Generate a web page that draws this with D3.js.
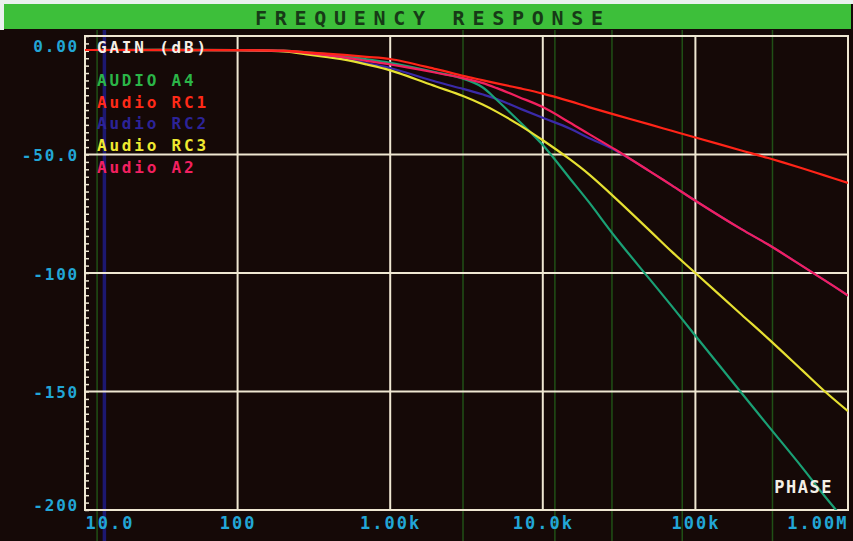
<!DOCTYPE html>
<html><head><meta charset="utf-8">
<script src="https://cdn.jsdelivr.net/npm/d3@7"></script>
<style>html,body{margin:0;padding:0;background:#150907;overflow:hidden}</style>
</head><body><svg id="c" width="853" height="541"></svg>
<script>
// ---- data ----
const frequencies = [10, 100, 200, 300, 500, 700, 1000, 2000, 3000, 4000, 5000, 7000, 10000, 15000, 20000, 30000, 50000, 70000, 100000, 200000, 300000, 500000, 700000, 1000000];
const audioA4  = [-5.9, -6, -6.2, -7, -8.5, -9.8, -11.3, -15.3, -18, -21.5, -27, -36, -46, -60, -70, -85, -102.5, -114, -126.5, -150.5, -164.5, -182, -194, -206];
const audioRC1 = [-5.9, -6, -6.2, -7, -8, -8.8, -9.7, -14, -16.8, -18.6, -20, -22, -24.3, -27.5, -30, -33.3, -37.3, -40, -42.8, -48.3, -51.5, -55.8, -58.8, -62];
const audioRC2 = [-5.9, -6, -6.4, -7.6, -9.6, -11.5, -13.5, -19.3, -22.3, -24.6, -26.6, -30.5, -34.5, -39, -43, -48.3, -57, -63, -69.5, -81.5, -88, -97, -103, -109.5];
const audioRC3 = [-5.9, -6, -6.5, -8, -10, -12, -14.5, -21.3, -25.3, -28.8, -32, -37.5, -44, -52, -58.3, -68.5, -82, -91, -100, -117.5, -127.7, -141, -149.8, -158.3];
const audioA2  = [-5.9, -6, -6.3, -7.3, -9, -10.5, -12, -15.5, -17.8, -19.8, -22, -25.8, -30, -36.5, -41.3, -48, -57, -63, -69.5, -81.5, -88, -97, -103, -109.5];
const seriesNames = ["AUDIO A4", "Audio RC1", "Audio RC2", "Audio RC3", "Audio A2"];
const yTicks = [0, -50, -100, -150, -200];
const yTickLabels = ["0.00", "-50.0", "-100", "-150", "-200"];
const xTicks = [10, 100, 1000, 10000, 100000, 1000000];
const xTickLabels = ["10.0", "100", "1.00k", "10.0k", "100k", "1.00M"];
const title = "FREQUENCY RESPONSE";
const yTitle = "GAIN (dB)";
const cornerLabel = "PHASE";
const scanFreqs = [12, 3000, 12000, 28400, 82000, 320000];
const scanFreqsBlue = [13.4];

// ---- styles ----
const colors = {
  "AUDIO A4": {line: "#1aa075", text: "#2bb548"},
  "Audio RC1": {line: "#ff2418", text: "#ff2a18"},
  "Audio RC2": {line: "#3a2aa8", text: "#2c2398"},
  "Audio RC3": {line: "#e6e032", text: "#eeea30"},
  "Audio A2": {line: "#f2205e", text: "#f22060"}
};
const drawOrder = ["Audio RC2", "AUDIO A4", "Audio RC3", "Audio A2", "Audio RC1"];
const seriesData = {"AUDIO A4": audioA4, "Audio RC1": audioRC1, "Audio RC2": audioRC2, "Audio RC3": audioRC3, "Audio A2": audioA2};
const FONT = "'DejaVu Sans Mono', monospace";
const GRID = "#efe7d2";
const CYAN = "#22a6d6";

const svg = d3.select("#c");
const W = 853, H = 541;
svg.append("rect").attr("width", W).attr("height", H).attr("fill", "#150907");
svg.append("rect").attr("x", 0).attr("y", 0).attr("width", W).attr("height", 4).attr("fill", "#e9f1ef");
svg.append("rect").attr("x", 0).attr("y", 0).attr("width", 4).attr("height", 30).attr("fill", "#e9f1ef");
svg.append("rect").attr("x", 4).attr("y", 4).attr("width", W - 6).attr("height", 25).attr("fill", "#3dbf3a");
svg.append("text").attr("x", 429).attr("y", 24.5).attr("text-anchor", "middle")
  .attr("font-family", FONT).attr("font-size", 20).attr("font-weight", "bold").attr("fill", "#173a17")
  .attr("textLength", 348).attr("lengthAdjust", "spacing").text(title);

const x = d3.scaleLog().domain([10, 1e6]).range([85, 848]);
const y = d3.scaleLinear().domain([0, -200]).range([36, 510]);

// faint raster lines of the photographed screen
const g0 = svg.append("g");
g0.selectAll("line.sg").data(scanFreqs).join("line")
  .attr("x1", d => x(d)).attr("x2", d => x(d)).attr("y1", 30).attr("y2", 541)
  .attr("stroke", "#2a8a22").attr("stroke-opacity", 0.55).attr("stroke-width", 1.5);
g0.selectAll("line.sb").data(scanFreqsBlue).join("line")
  .attr("x1", d => x(d)).attr("x2", d => x(d)).attr("y1", 30).attr("y2", 541)
  .attr("stroke", "#1c1870").attr("stroke-width", 3.5);

// grid
const grid = svg.append("g");
grid.selectAll("line.v").data(xTicks.slice(1, -1)).join("line")
  .attr("x1", d => x(d)).attr("x2", d => x(d)).attr("y1", y(0)).attr("y2", y(-200))
  .attr("stroke", GRID).attr("stroke-width", 2);
grid.selectAll("line.h").data(yTicks.slice(1, -1)).join("line")
  .attr("x1", x(10)).attr("x2", x(1e6)).attr("y1", d => y(d)).attr("y2", d => y(d))
  .attr("stroke", GRID).attr("stroke-width", 2);
svg.append("rect").attr("x", x(10)).attr("y", y(0)).attr("width", x(1e6) - x(10)).attr("height", y(-200) - y(0))
  .attr("fill", "none").attr("stroke", GRID).attr("stroke-width", 2);

// minor ticks on gain axis
const minor = d3.range(0, -200.01, -50 / 16);
svg.append("g").attr("transform", `translate(${x(10)},0)`)
  .call(d3.axisRight(y).tickValues(minor).tickSize(4).tickFormat(""))
  .call(g => g.select(".domain").remove())
  .call(g => g.selectAll("line").attr("stroke", GRID).attr("stroke-width", 1.5));

// y labels
const yAx = svg.append("g").attr("transform", `translate(${x(10) - 3},0)`)
  .call(d3.axisLeft(y).tickValues(yTicks).tickSize(0).tickFormat((d, i) => yTickLabels[i]));
yAx.select(".domain").remove();
yAx.selectAll("text").attr("font-family", FONT).attr("font-size", 16).attr("font-weight", "bold").attr("fill", CYAN)
  .attr("letter-spacing", 1.8)
  .attr("dy", (d, i) => i === 0 ? "0.95em" : (i === yTicks.length - 1 ? "0.0em" : "0.4em"));

// x labels
const xAx = svg.append("g").attr("transform", `translate(0,${y(-200)})`)
  .call(d3.axisBottom(x).tickValues(xTicks).tickSize(0).tickFormat((d, i) => xTickLabels[i]));
xAx.select(".domain").remove();
xAx.selectAll("text").attr("font-family", FONT).attr("font-size", 17).attr("font-weight", "bold").attr("fill", CYAN)
  .attr("letter-spacing", 2).attr("dy", "0.95em")
  .attr("text-anchor", (d, i) => i === 0 ? "start" : (i === xTicks.length - 1 ? "end" : "middle"));

// curves
svg.append("clipPath").attr("id", "clip").append("rect")
  .attr("x", x(10)).attr("y", y(0)).attr("width", x(1e6) - x(10)).attr("height", y(-200) - y(0));
const line = d3.line().x((d, i) => x(frequencies[i])).y(d => y(d)).curve(d3.curveCatmullRom.alpha(0.5));
const lg = svg.append("g").attr("clip-path", "url(#clip)");
drawOrder.forEach(name => {
  lg.append("path").datum(seriesData[name]).attr("d", line)
    .attr("fill", "none").attr("stroke", colors[name].line).attr("stroke-width", 2.2)
    .attr("stroke-linejoin", "round");
});

// legend
const leg = svg.append("g").attr("font-family", FONT).attr("font-size", 16).attr("font-weight", "bold").attr("letter-spacing", 2.8);
leg.append("text").attr("x", 97).attr("y", 53).attr("fill", "#f4efe6").text(yTitle);
seriesNames.forEach((name, i) => {
  leg.append("text").attr("x", 97).attr("y", 86 + i * 21.7).attr("fill", colors[name].text).text(name);
});
svg.append("text").attr("x", 833).attr("y", 493).attr("text-anchor", "end")
  .attr("font-family", FONT).attr("font-size", 17).attr("font-weight", "bold").attr("letter-spacing", 1.5)
  .attr("fill", "#f4efe6").text(cornerLabel);
</script></body></html>
